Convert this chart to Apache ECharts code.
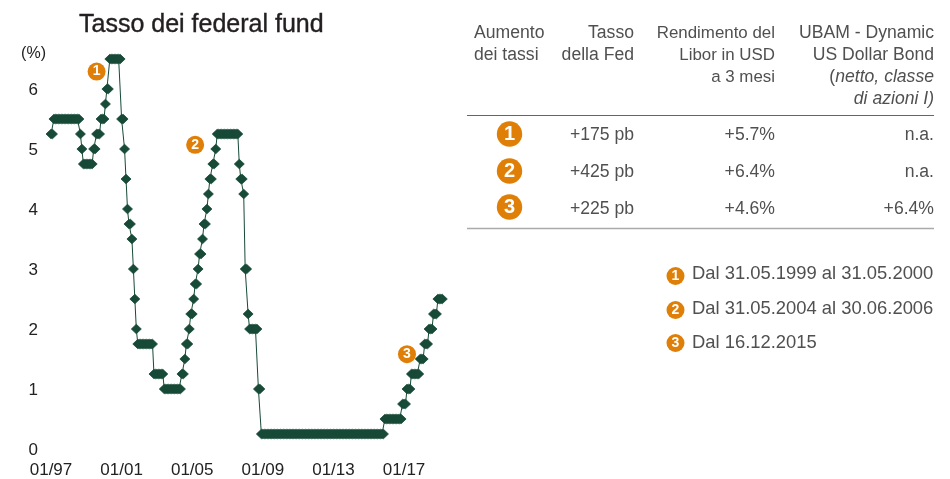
<!DOCTYPE html>
<html>
<head>
<meta charset="utf-8">
<style>
  html, body { margin: 0; padding: 0; background: #fff; }
  #chart { width: 950px; height: 479px; }
</style>
<script src="https://cdn.jsdelivr.net/npm/echarts@6/dist/echarts.min.js"></script>
</head>
<body>
<div id="chart"></div>
<script>
// Fed funds target, one value per month from 01/97
const fedRate = [
  5.25, 5.25, 5.5, 5.5, 5.5, 5.5, 5.5, 5.5, 5.5, 5.5, 5.5, 5.5,
  5.5, 5.5, 5.5, 5.5, 5.5, 5.5, 5.5, 5.5, 5.25, 5, 4.75, 4.75,
  4.75, 4.75, 4.75, 4.75, 4.75, 5, 5, 5.25, 5.25, 5.25, 5.5, 5.5,
  5.5, 5.75, 6, 6, 6.5, 6.5, 6.5, 6.5, 6.5, 6.5, 6.5, 6.5,
  5.5, 5.5, 5, 4.5, 4, 3.75, 3.75, 3.5, 3, 2.5, 2, 1.75,
  1.75, 1.75, 1.75, 1.75, 1.75, 1.75, 1.75, 1.75, 1.75, 1.75, 1.25, 1.25,
  1.25, 1.25, 1.25, 1.25, 1.25, 1, 1, 1, 1, 1, 1, 1,
  1, 1, 1, 1, 1, 1.25, 1.25, 1.5, 1.75, 1.75, 2, 2.25,
  2.25, 2.5, 2.75, 2.75, 3, 3.25, 3.25, 3.5, 3.75, 3.75, 4, 4.25,
  4.5, 4.5, 4.75, 4.75, 5, 5.25, 5.25, 5.25, 5.25, 5.25, 5.25, 5.25,
  5.25, 5.25, 5.25, 5.25, 5.25, 5.25, 5.25, 5.25, 4.75, 4.5, 4.5, 4.25,
  3, 3, 2.25, 2, 2, 2, 2, 2, 2, 1, 1, 0.25,
  0.25, 0.25, 0.25, 0.25, 0.25, 0.25, 0.25, 0.25, 0.25, 0.25, 0.25, 0.25,
  0.25, 0.25, 0.25, 0.25, 0.25, 0.25, 0.25, 0.25, 0.25, 0.25, 0.25, 0.25,
  0.25, 0.25, 0.25, 0.25, 0.25, 0.25, 0.25, 0.25, 0.25, 0.25, 0.25, 0.25,
  0.25, 0.25, 0.25, 0.25, 0.25, 0.25, 0.25, 0.25, 0.25, 0.25, 0.25, 0.25,
  0.25, 0.25, 0.25, 0.25, 0.25, 0.25, 0.25, 0.25, 0.25, 0.25, 0.25, 0.25,
  0.25, 0.25, 0.25, 0.25, 0.25, 0.25, 0.25, 0.25, 0.25, 0.25, 0.25, 0.25,
  0.25, 0.25, 0.25, 0.25, 0.25, 0.25, 0.25, 0.25, 0.25, 0.25, 0.25, 0.5,
  0.5, 0.5, 0.5, 0.5, 0.5, 0.5, 0.5, 0.5, 0.5, 0.5, 0.5, 0.75,
  0.75, 0.75, 1, 1, 1, 1.25, 1.25, 1.25, 1.25, 1.25, 1.25, 1.5,
  1.5, 1.5, 1.75, 1.75, 1.75, 2, 2, 2, 2.25, 2.25, 2.25, 2.5,
  2.5, 2.5, 2.5
];

// month labels, mm/yy
const months = fedRate.map((_, i) => {
  const m = String(i % 12 + 1).padStart(2, "0");
  const y = String((97 + Math.floor(i / 12)) % 100).padStart(2, "0");
  return m + "/" + y;
});

const hikeBadges = [
  { name: "1", coord: ["08/99", 6.29] },
  { name: "2", coord: ["03/05", 5.07] },
  { name: "3", coord: ["03/17", 1.58] }
];

const headers = [
  { x: 474, align: "left", size: 17.6, lines: ["Aumento", "dei tassi"] },
  { x: 634, align: "right", size: 17.6, lines: ["Tasso", "della Fed"] },
  { x: 775, align: "right", size: 16.9, lines: ["Rendimento del", "Libor in USD", "a 3 mesi"] },
  { x: 934, align: "right", size: 17.6, lines: ["UBAM - Dynamic", "US Dollar Bond", "{n|(}{i|netto, classe}", "{i|di azioni I)}"] }
];
const fedMoves = ["+175 pb", "+425 pb", "+225 pb"];
const liborReturns = ["+5.7%", "+6.4%", "+4.6%"];
const fundReturns = ["n.a.", "n.a.", "+6.4%"];
const periods = ["Dal 31.05.1999 al 31.05.2000", "Dal 31.05.2004 al 30.06.2006", "Dal 16.12.2015"];

const FONT = '"Liberation Sans", Arial, sans-serif';
const ORANGE = "#e07f08";
const GREEN = "#174a37";
const TEXT = "#505050";

function label(x, y, text, align, size) {
  const s = size || 17.6;
  return {
    type: "text",
    style: {
      x: x, y: y, text: text, align: align, verticalAlign: "middle",
      fill: TEXT, font: s + "px " + FONT,
      rich: {
        n: { fill: TEXT, font: s + "px " + FONT },
        i: { fill: TEXT, font: "italic " + s + "px " + FONT }
      }
    }
  };
}

function badge(cx, cy, r, n) {
  return {
    type: "circle",
    shape: { cx: cx, cy: cy, r: r },
    style: { fill: ORANGE },
    textContent: {
      type: "text",
      style: { text: n, fill: "#fff", font: "bold " + Math.round(r * 1.6) + "px " + FONT }
    },
    textConfig: { position: "inside" }
  };
}

const graphics = [];
const headerRows = [33, 55, 77, 99];
headers.forEach(h => {
  h.lines.forEach((line, i) => graphics.push(label(h.x, headerRows[i], line, h.align, h.size)));
});
graphics.push({ type: "line", shape: { x1: 467, y1: 115.5, x2: 934, y2: 115.5 }, style: { stroke: "#666", lineWidth: 1 } });
graphics.push({ type: "line", shape: { x1: 467, y1: 228.5, x2: 934, y2: 228.5 }, style: { stroke: "#aaa", lineWidth: 1.5 } });

const badgeRowY = [134, 171, 207];
const rowY = [135, 172, 209];
rowY.forEach((y, i) => {
  graphics.push(badge(509.5, badgeRowY[i], 12.7, String(i + 1)));
  graphics.push(label(634, y, fedMoves[i], "right"));
  graphics.push(label(775, y, liborReturns[i], "right"));
  graphics.push(label(934, y, fundReturns[i], "right"));
});

const periodY = [274, 309, 343];
const periodBadgeY = [276, 310, 343];
periods.forEach((p, i) => {
  graphics.push(badge(675.5, periodBadgeY[i], 9, String(i + 1)));
  graphics.push(label(692, periodY[i], p, "left", 18.4));
});

const chart = echarts.init(document.getElementById("chart"));
chart.setOption({
  animation: false,
  title: {
    text: "Tasso dei federal fund",
    left: 74,
    top: 8,
    textStyle: { fontFamily: FONT, fontSize: 25, fontWeight: "normal", color: "#231f20", textBorderColor: "#231f20", textBorderWidth: 0.4 }
  },
  grid: { left: 51, top: 59, width: 391.3, height: 390.5 },
  xAxis: {
    type: "category",
    data: months,
    boundaryGap: false,
    axisLine: { show: false },
    axisTick: { show: false },
    splitLine: { show: false },
    axisLabel: { interval: i => i % 48 === 0, margin: 13, color: "#222", fontFamily: FONT, fontSize: 17 }
  },
  yAxis: {
    type: "value",
    min: 0,
    max: 6.5,
    interval: 1,
    name: "(%)",
    nameGap: -3,
    nameTextStyle: { color: "#222", fontFamily: FONT, fontSize: 16, align: "right", padding: [0, 5, 0, 0] },
    axisLine: { show: false },
    axisTick: { show: false },
    splitLine: { show: false },
    axisLabel: {
      margin: 13,
      showMaxLabel: false,
      formatter: "{a|{value}}",
      rich: { a: { color: "#222", fontFamily: FONT, fontSize: 17, padding: [3, 0, 0, 0] } }
    }
  },
  series: [{
    type: "line",
    data: fedRate,
    showSymbol: true,
    showAllSymbol: true,
    symbol: "diamond",
    symbolSize: [10, 9.5],
    itemStyle: { color: GREEN, borderColor: GREEN, borderWidth: 0.8 },
    lineStyle: { color: GREEN, width: 1 },
    markPoint: {
      symbol: "circle",
      symbolSize: 18,
      itemStyle: { color: ORANGE, borderWidth: 0 },
      label: { show: true, formatter: "{b}", color: "#fff", fontFamily: FONT, fontSize: 14, fontWeight: "bold" },
      data: hikeBadges
    }
  }],
  graphic: graphics
});
</script>
</body>
</html>
